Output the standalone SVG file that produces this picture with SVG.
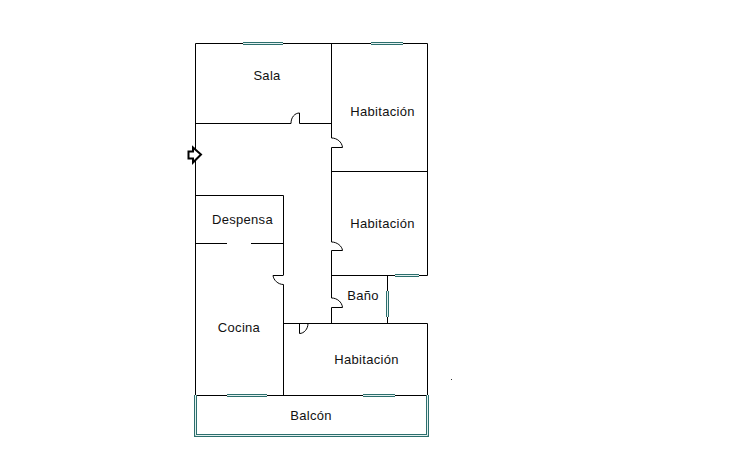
<svg xmlns="http://www.w3.org/2000/svg" width="730" height="450" viewBox="0 0 730 450">
<style>
.w{fill:none;stroke:#000;stroke-width:1}
.g{fill:none;stroke:#2c6f6d;stroke-width:3}
.gi{fill:none;stroke:#e4f0ef;stroke-width:1}
text{font-family:"Liberation Sans",Arial,sans-serif;font-size:13px;letter-spacing:.3px;fill:#111;text-anchor:middle}
</style>
<rect width="730" height="450" fill="#fff"/>
<g id="connectors">
<path class="w" d="M195.5 43.5H427.5V275.5M195.5 43.5V395.5M331.5 43.5V138M331.5 147.5V242M331.5 250.5V298M331.5 307.5V323.5"/>
<path class="w" d="M195.5 123.5H291M299.5 123.5H331.5M299.5 123.5V113M291 123.5C291 117 295 113 299.5 113"/>
<path class="w" d="M331.5 138C337 138 342 142 342.5 147.5H331.5M331.5 242C337 242 342 246 342.5 250.5H331.5M331.5 298C337 298 342 302 342.5 307.5H331.5"/>
<path class="w" d="M331.5 171.5H427.5M331.5 275.5H427.5M387.5 275.5V323.5"/>
<path class="w" d="M195.5 195.5H283.5V275M283.5 284.5V395.5M195.5 243.5H227M251 243.5H283.5"/>
<path class="w" d="M283.5 275.5H273C273.5 280 278 284.5 283.5 284.5"/>
<path class="w" d="M283.5 323.5H427.5V395.5M299.5 323.5V333.5C304 333.5 308 329 308 323.5"/>
<path class="w" d="M195.5 395.5H427.5"/>
<g>
<path class="g" d="M243 43.5H283M371 43.5H403M395 275.5H419M387.5 291V317M227 395.5H267M363 395.5H395M195.500 395V435.500H427.500V395"/>
<path class="gi" d="M243 43.5H283M371 43.5H403M395 275.5H419M387.5 291V317M227 395.5H267M363 395.5H395M195.500 395V435.500H427.500V395"/>
</g>
</g>
<g id="entrada"><path d="M188.5 151.5H193V147.5L201 154.5L193 162.5V158.5H188.5Z" fill="#fff" stroke="#000" stroke-width="2"/></g>
<g id="sala"><text x="267" y="79.500">Sala</text></g>
<g id="habitacion1"><text x="382.500" y="115.500">Habitación</text></g>
<g id="habitacion2"><text x="382.500" y="227.500">Habitación</text></g>
<g id="despensa"><text x="242.500" y="223.500">Despensa</text></g>
<g id="bano"><text x="363" y="299.500">Baño</text></g>
<g id="cocina"><text x="239" y="331.500">Cocina</text></g>
<g id="habitacion3"><text x="366.500" y="363.500">Habitación</text></g>
<g id="balcon"><text x="311" y="419.500">Balcón</text></g>
<rect x="451" y="379" width="1" height="1" fill="#333"/>
</svg>
